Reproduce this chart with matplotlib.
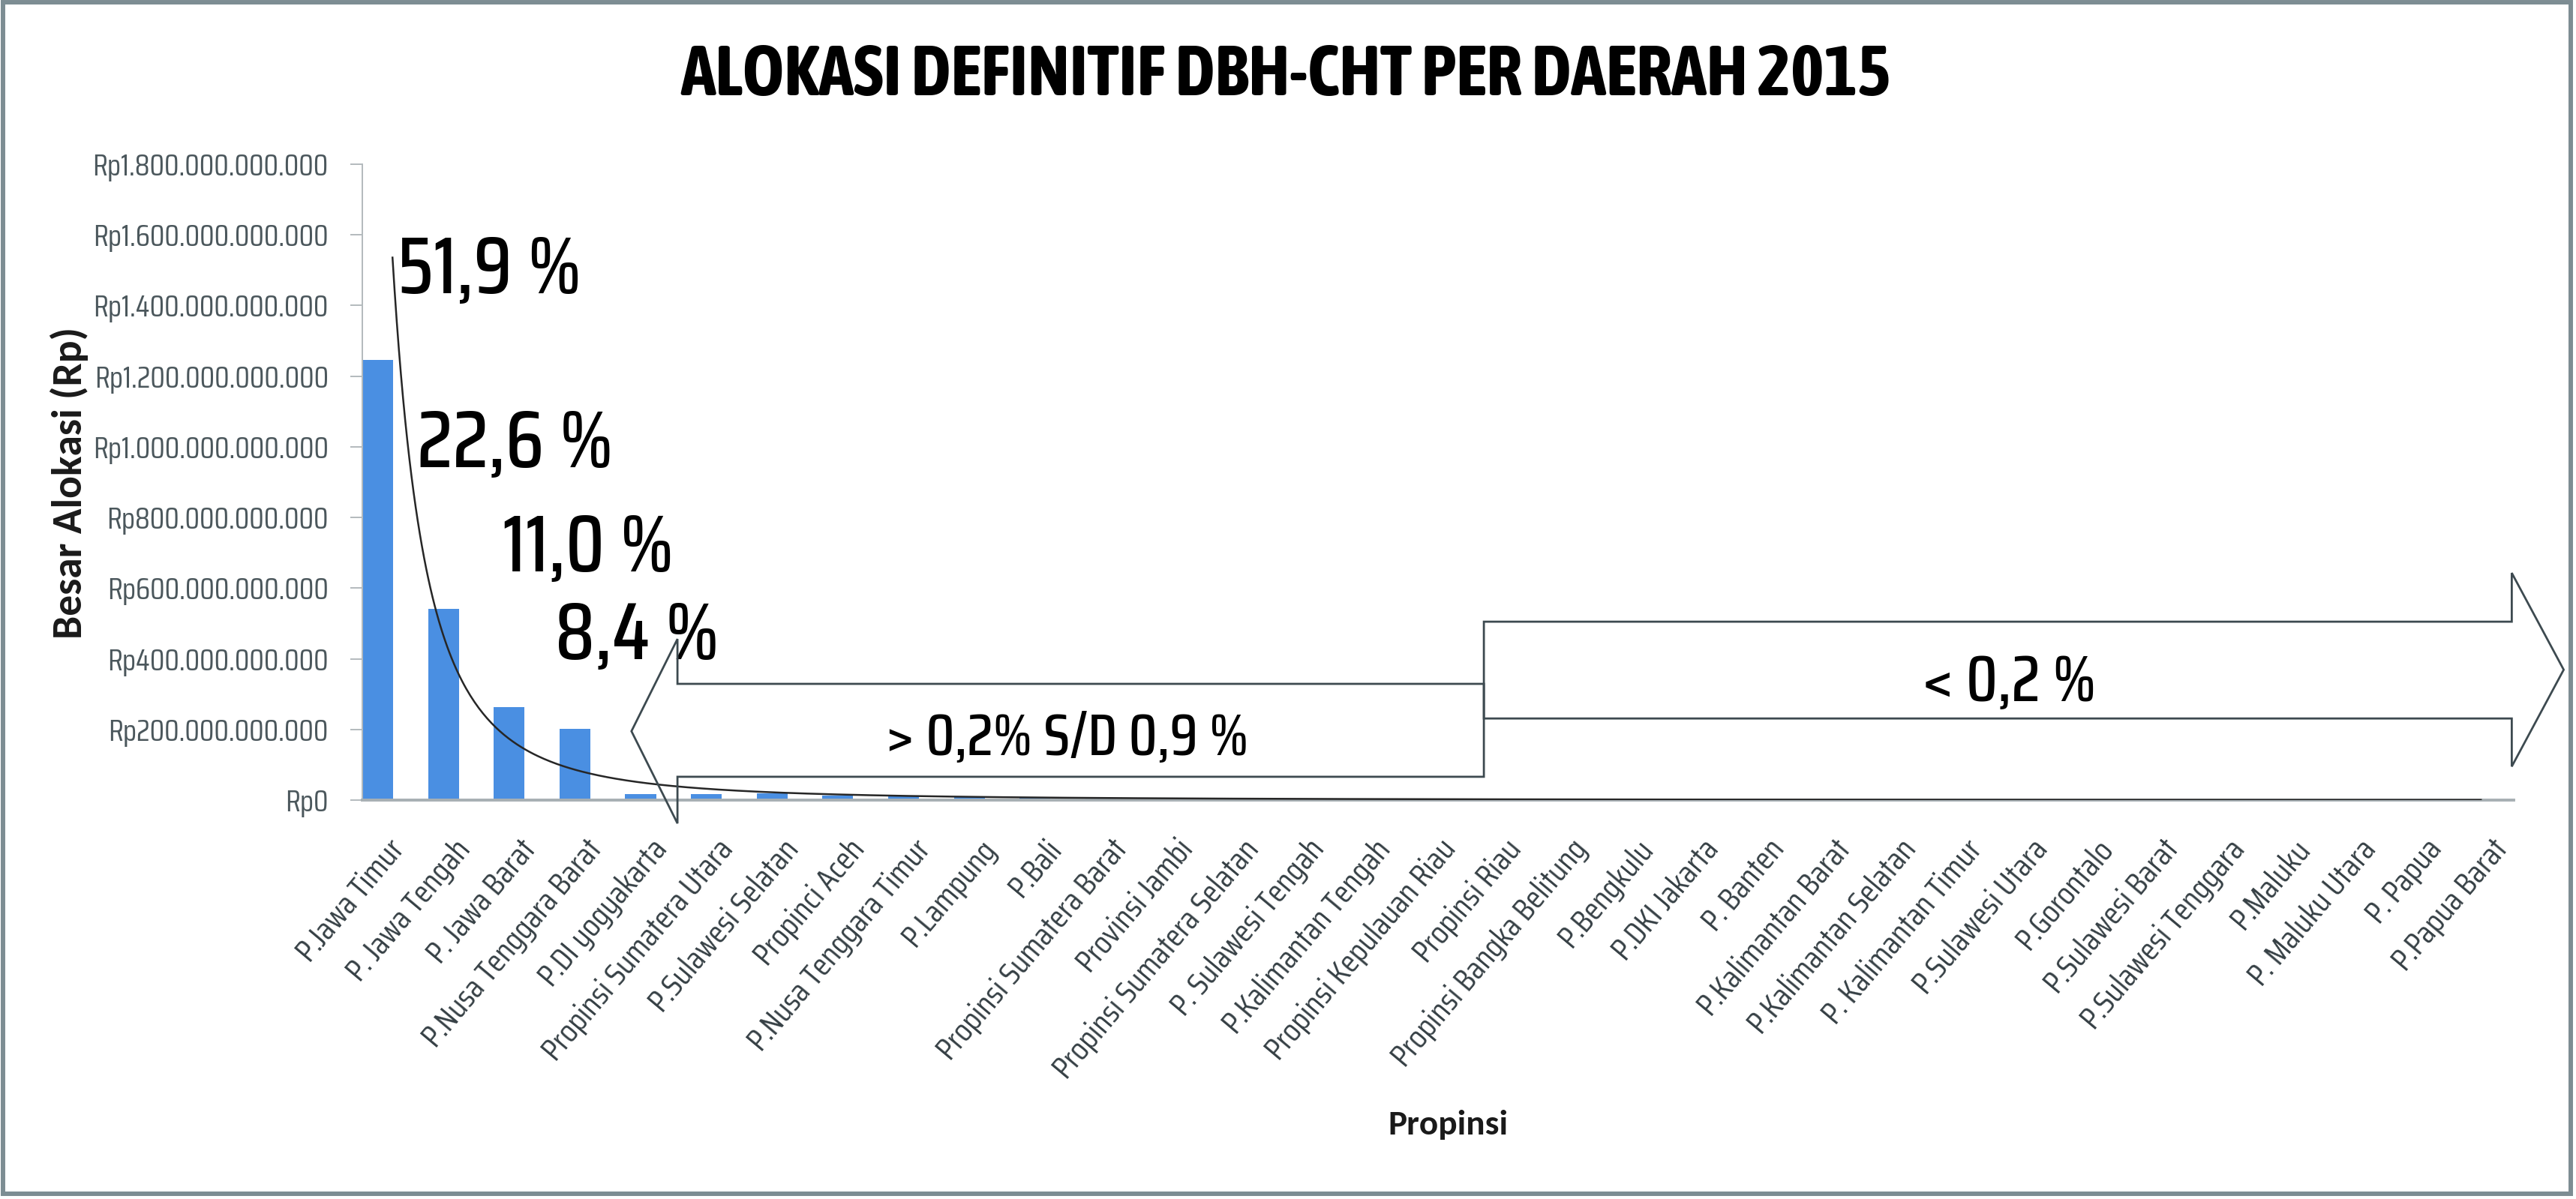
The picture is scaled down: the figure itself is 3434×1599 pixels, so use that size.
import numpy as np
import matplotlib
matplotlib.use("Agg")
import matplotlib.pyplot as plt
from matplotlib import font_manager as fm
from matplotlib.patches import Polygon, Rectangle
from matplotlib.ticker import FuncFormatter
from matplotlib.transforms import ScaledTranslation

# data (Rp miliar)
provinces = [
    "P.Jawa Timur", "P. Jawa Tengah", "P. Jawa Barat", "P.Nusa Tenggara Barat",
    "P.DI yogyakarta", "Propinsi Sumatera Utara", "P.Sulawesi Selatan", "Propinci Aceh",
    "P.Nusa Tenggara Timur", "P.Lampung", "P.Bali", "Propinsi Sumatera Barat",
    "Provinsi Jambi", "Propinsi Sumatera Selatan", "P. Sulawesi Tengah", "P.Kalimantan Tengah",
    "Propinsi Kepulauan Riau", "Propinsi Riau", "Propinsi Bangka Belitung", "P.Bengkulu",
    "P.DKI Jakarta", "P. Banten", "P.Kalimantan Barat", "P.Kalimantan Selatan",
    "P. Kalimantan Timur", "P.Sulawesi Utara", "P.Gorontalo", "P.Sulawesi Barat",
    "P.Sulawesi Tenggara", "P.Maluku", "P. Maluku Utara", "P. Papua", "P.Papua Barat",
]
alokasi_miliar = [
    1245, 541, 263, 201,
    18, 17, 19.5, 13.5,
    10.5, 8.5, 7.5, 6.5,
    6.0, 5.5, 5.2, 5.0,
    4.9, 3.9, 3.3, 2.85,
    2.4, 1.95, 1.65, 1.35,
    1.1, 0.9, 0.75, 0.6,
    0.48, 0.38, 0.3, 0.22, 0.18,
]
pct_labels = ["51,9 %", "22,6 %", "11,0 %", "8,4 %"]
group_labels = ["> 0,2% S/D 0,9 %", "< 0,2 %"]
title = "ALOKASI DEFINITIF DBH-CHT PER DAERAH 2015"


def pick(*names):
    have = {f.name for f in fm.fontManager.ttflist}
    for n in names:
        if n in have:
            return n
    return "DejaVu Sans"


cond = pick("Saira Extra Condensed", "Saira Condensed", "Pathway Gothic One", "Antonio",
            "Oswald", "Archivo Narrow", "Asap Condensed")
title_font = pick("Asap Condensed", "Archivo Narrow", "Open Sans")
label_font = pick("Carlito", "Open Sans", "Lato")

values = np.array(alokasi_miliar) * 1e9
x = np.arange(len(provinces))

fig = plt.figure(figsize=(34.34, 15.99), dpi=100)
ax = fig.add_axes([483 / 3434, 1 - 1067 / 1599, (3351 - 483) / 3434, 848 / 1599])

ax.bar(x, values, width=0.47, color="#4a8fe2", zorder=2)

# power trendline (like excel) fitted on the bars
b, lna = np.polyfit(np.log(x + 1), np.log(values), 1)
xx = np.linspace(1, len(x), 1000)
yy = np.exp(lna) * xx ** b
keep = yy <= 1.6e12
ax.plot(xx[keep] - 1, yy[keep], color="#262626", lw=1.8, zorder=3)

ax.set_xlim(-0.235, 32.5)
ax.set_ylim(0, 1.8e12)
ax.set_yticks(np.arange(0, 1.8e12 + 1, 2e11))
ax.yaxis.set_major_formatter(FuncFormatter(lambda v, p: "Rp" + f"{v:,.0f}".replace(",", ".")))

for s in ["top", "right"]:
    ax.spines[s].set_visible(False)
ax.spines["left"].set_color("#b3babd")
ax.spines["left"].set_linewidth(1.4)
ax.spines["bottom"].set_color("#a7afb3")
ax.spines["bottom"].set_linewidth(2.8)

ax.tick_params(axis="y", length=11.5, width=1.4, color="#b3babd", pad=21,
               labelsize=29, labelcolor="#4b575c")
for t in ax.get_yticklabels():
    t.set_family(cond)

ax.set_xticks(x)
ax.set_xticklabels(provinces, rotation=50, ha="right", va="center",
                   rotation_mode="anchor", fontsize=31, color="#353f44", family=cond)
ax.tick_params(axis="x", length=0, pad=42)
shift = ScaledTranslation(28 / 100, 0, fig.dpi_scale_trans)
for t in ax.get_xticklabels():
    t.set_transform(t.get_transform() + shift)

# big percentage labels
kw = dict(fontsize=78, family=cond, fontweight=500, ha="left", va="center")
ax.text(0.30, 1.497e12, pct_labels[0], **kw)
ax.text(0.60, 1.006e12, pct_labels[1], **kw)
ax.text(1.90, 0.711e12, pct_labels[2], **kw)
ax.text(2.70, 0.461e12, pct_labels[3], **kw)

# block arrows for the groups
left_arrow = [(3.86, 195e9), (4.56, 456e9), (4.56, 329e9), (16.83, 329e9),
              (16.83, 66e9), (4.56, 66e9), (4.56, -66e9)]
right_arrow = [(16.83, 505e9), (32.47, 505e9), (32.47, 643e9), (33.26, 369e9),
               (32.47, 95e9), (32.47, 231e9), (16.83, 231e9)]
for pts in (left_arrow, right_arrow):
    ax.add_patch(Polygon(pts, closed=True, fill=False, edgecolor="#3d4a50", lw=2.0,
                         clip_on=False, zorder=4))

ax.text(10.49, 174e9, group_labels[0], fontsize=57, family=cond, fontweight=500,
        ha="center", va="center")
ax.text(24.82, 331e9, group_labels[1], fontsize=63, family=cond, fontweight=500,
        ha="center", va="center")

fig.text(1714 / 3434, 1 - 101 / 1599, title, ha="center", va="center", fontsize=68,
         fontweight="bold", family=title_font)
fig.text(92 / 3434, 1 - 644 / 1599, "Besar Alokasi (Rp)", rotation=90, ha="center",
         va="center", fontsize=40, fontweight="bold", family=label_font, color="#1a1a1a")
fig.text(1930 / 3434, 1 - 1500 / 1599, "Propinsi", ha="center", va="center", fontsize=34,
         fontweight="bold", family=label_font, color="#1a1a1a")

# grey frame round the chart
fig.patches.append(Rectangle((4 / 3434, 1 - 1592 / 1599), 3423 / 3434, 1589 / 1599,
                             transform=fig.transFigure, fill=False, edgecolor="#7d8d93", lw=4.3))

fig.savefig("out.png", dpi=100)
